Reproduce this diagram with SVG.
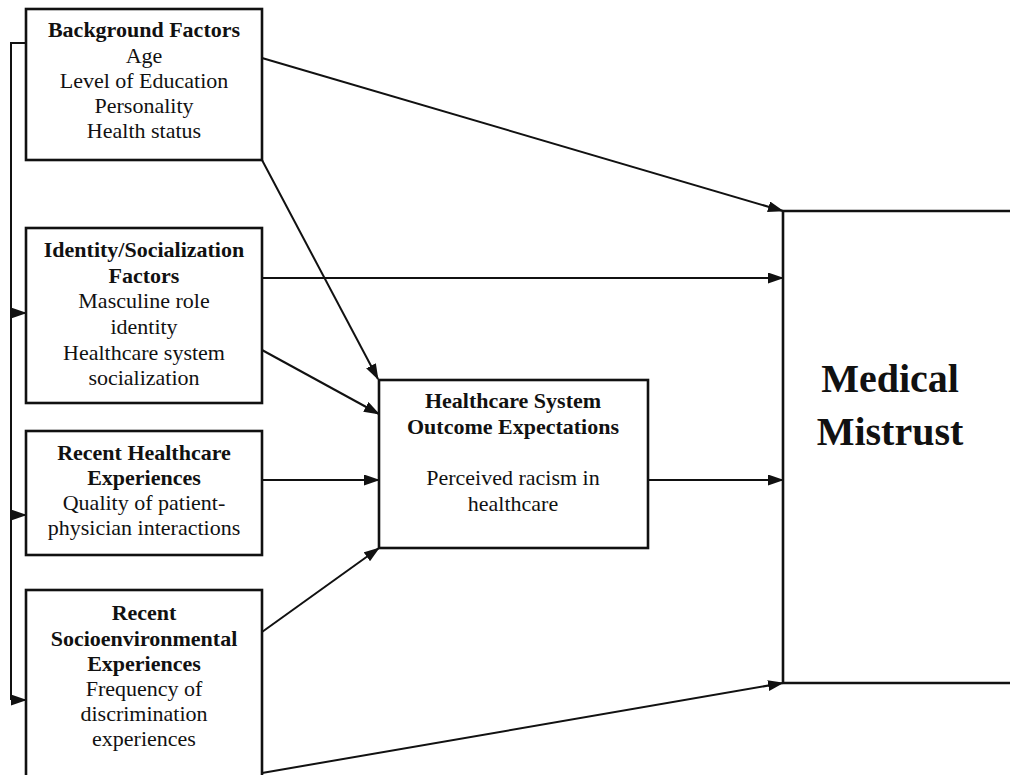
<svg xmlns="http://www.w3.org/2000/svg" width="1010" height="775" viewBox="0 0 1010 775">
<defs>
<marker id="ah" markerWidth="16" markerHeight="11" refX="15" refY="5.5" orient="auto" markerUnits="userSpaceOnUse">
<path d="M0,0 L16,5.5 L0,11 Z" fill="#111"/>
</marker>
<style>
.box{fill:#fff;stroke:#111;stroke-width:2.6}
.ln{fill:none;stroke:#111;stroke-width:2}
text{font-family:"Liberation Serif","Times New Roman",serif;font-size:22px;fill:#111;text-anchor:middle}
.b{font-weight:bold}
.big{font-size:40px;font-weight:bold}
</style>
</defs>
<rect width="1010" height="775" fill="#fff"/>
<g id="connectors">
<path class="ln" d="M26,43 H11 V700"/>
<line class="ln" x1="11" y1="313" x2="26" y2="313" marker-end="url(#ah)"/>
<line class="ln" x1="11" y1="515" x2="26" y2="515" marker-end="url(#ah)"/>
<line class="ln" x1="11" y1="700" x2="26" y2="700" marker-end="url(#ah)"/>
<line class="ln" x1="262" y1="58" x2="783" y2="211" marker-end="url(#ah)"/>
<line class="ln" x1="262" y1="160" x2="378" y2="379" marker-end="url(#ah)"/>
<line class="ln" x1="262" y1="278" x2="783" y2="278" marker-end="url(#ah)"/>
<line class="ln" x1="262" y1="350" x2="379" y2="414" marker-end="url(#ah)"/>
<line class="ln" x1="262" y1="480" x2="379" y2="480" marker-end="url(#ah)"/>
<line class="ln" x1="262" y1="632" x2="379" y2="548" marker-end="url(#ah)"/>
<line class="ln" x1="262" y1="773" x2="783" y2="683" marker-end="url(#ah)"/>
<line class="ln" x1="648" y1="480" x2="783" y2="480" marker-end="url(#ah)"/>
</g>
<g id="background">
<rect class="box" x="26" y="9" width="236" height="151"/>
<text x="144" y="37" class="b">Background Factors</text>
<text x="144" y="63">Age</text>
<text x="144" y="88">Level of Education</text>
<text x="144" y="113">Personality</text>
<text x="144" y="138">Health status</text>
</g>
<g id="identity">
<rect class="box" x="26" y="228" width="236" height="175"/>
<text x="144" y="257" class="b">Identity/Socialization</text>
<text x="144" y="283" class="b">Factors</text>
<text x="144" y="308">Masculine role</text>
<text x="144" y="334">identity</text>
<text x="144" y="360">Healthcare system</text>
<text x="144" y="385">socialization</text>
</g>
<g id="recent-healthcare">
<rect class="box" x="26" y="431" width="236" height="124"/>
<text x="144" y="460" class="b">Recent Healthcare</text>
<text x="144" y="485" class="b">Experiences</text>
<text x="144" y="510">Quality of patient-</text>
<text x="144" y="535">physician interactions</text>
</g>
<g id="recent-socio">
<rect class="box" x="26" y="590" width="236" height="190"/>
<text x="144" y="620" class="b">Recent</text>
<text x="144" y="646" class="b">Socioenvironmental</text>
<text x="144" y="671" class="b">Experiences</text>
<text x="144" y="696">Frequency of</text>
<text x="144" y="721">discrimination</text>
<text x="144" y="746">experiences</text>
</g>
<g id="outcome">
<rect class="box" x="379" y="380" width="269" height="168"/>
<text x="513" y="408" class="b">Healthcare System</text>
<text x="513" y="434" class="b">Outcome Expectations</text>
<text x="513" y="485">Perceived racism in</text>
<text x="513" y="511">healthcare</text>
</g>
<g id="mistrust">
<path class="box" d="M1012,211 H783 V683 H1012"/>
<text x="890" y="392" class="big">Medical</text>
<text x="890" y="445" class="big">Mistrust</text>
</g>
</svg>
